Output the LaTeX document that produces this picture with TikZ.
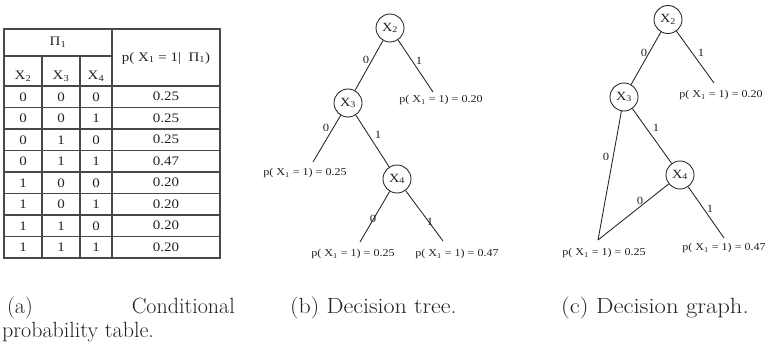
\documentclass[tikz,border=0pt]{standalone}
\usepackage{fontspec}
\newfontfamily\tfont[FakeStretch=1.15]{Liberation Serif}
\definecolor{ink}{HTML}{222222}
\definecolor{rulec}{HTML}{484848}
\begin{document}
\begin{tikzpicture}[x=1pt,y=-1pt,
  vnode/.style={circle,draw=ink,line width=0.85pt,minimum size=28pt,inner sep=0pt,font=\tfont\fontsize{12.5}{14}\selectfont,text=ink},
  leaf/.style={font=\tfont\fontsize{10.5}{12}\selectfont,text=ink,inner sep=0pt},
  elab/.style={font=\tfont\fontsize{11}{12}\selectfont,text=ink,inner sep=0pt},
  conn/.style={draw=ink,line width=0.85pt},
  tline/.style={draw=rulec,line width=1.2pt},
  tcell/.style={font=\tfont\fontsize{13}{15}\selectfont,text=ink,inner sep=0pt},
  capt/.style={font=\fontsize{22}{26}\selectfont,text=ink,inner sep=0pt}]
\useasboundingbox (0,0) rectangle (766,353);

% ---------- (a) table ----------
\draw[tline] (4,29) rectangle (220,258);
\draw[tline] (4,56) -- (112,56);
\draw[tline] (42,56) -- (42,258);
\draw[tline] (80,56) -- (80,258);
\draw[tline] (112,29) -- (112,258);
\foreach \k in {0,...,7} {
  \draw[tline] (4,86+21.5*\k) -- (220,86+21.5*\k);
}
\node[tcell] (pi) at (58,42) {Π\textsubscript{1}};
\node[tcell] (ph) at (166,58) {p( X\textsubscript{1} = 1|~ Π\textsubscript{1})};
\node[tcell] (h2) at (23,76) {X\textsubscript{2}};
\node[tcell] (h3) at (61,76) {X\textsubscript{3}};
\node[tcell] (h4) at (96,76) {X\textsubscript{4}};
\foreach \a/\b/\c/\v [count=\i from 0] in {0/0/0/0.25,0/0/1/0.25,0/1/0/0.25,0/1/1/0.47,1/0/0/0.20,1/0/1/0.20,1/1/0/0.20,1/1/1/0.20} {
  \node[tcell] (ra\i) at (23,96.75+21.5*\i) {\a};
  \node[tcell] (rb\i) at (61,96.75+21.5*\i) {\b};
  \node[tcell] (rc\i) at (96,96.75+21.5*\i) {\c};
  \node[tcell] (rv\i) at (166,96.75+21.5*\i) {\v};
}

% ---------- (b) decision tree ----------
\node[vnode] (b2) at (390,28) {X\textsubscript{2}};
\node[vnode] (b3) at (348,103) {X\textsubscript{3}};
\node[vnode] (b4) at (397,179) {X\textsubscript{4}};
\coordinate (b20e) at (433,92);
\coordinate (b25ae) at (313,162);
\coordinate (b25be) at (360,242);
\coordinate (b47e) at (443,241);
\node[leaf] (bl20) at (441,100) {p( X\textsubscript{1} = 1) = 0.20};
\node[leaf] (bl25a) at (305,173) {p( X\textsubscript{1} = 1) = 0.25};
\node[leaf] (bl25b) at (353,254) {p( X\textsubscript{1} = 1) = 0.25};
\node[leaf] (bl47) at (457,254) {p( X\textsubscript{1} = 1) = 0.47};
\draw[conn] (b2) -- (b3);
\draw[conn] (b2) -- (b20e);
\draw[conn] (b3) -- (b25ae);
\draw[conn] (b3) -- (b4);
\draw[conn] (b4) -- (b25be);
\draw[conn] (b4) -- (b47e);
\node[elab] (bla) at (366,60) {0};
\node[elab] (blb) at (419,61) {1};
\node[elab] (blc) at (326,128) {0};
\node[elab] (bld) at (378,135) {1};
\node[elab] (ble) at (373,219) {0};
\node[elab] (blf) at (430,222) {1};

% ---------- (c) decision graph ----------
\node[vnode] (c2) at (668,19.5) {X\textsubscript{2}};
\node[vnode] (c3) at (624,97) {X\textsubscript{3}};
\node[vnode] (c4) at (680,175) {X\textsubscript{4}};
\coordinate (c20e) at (714,83);
\coordinate (c25e) at (598,240);
\coordinate (c47e) at (724,238);
\node[leaf] (cl20) at (721,95) {p( X\textsubscript{1} = 1) = 0.20};
\node[leaf] (cl25) at (604,253) {p( X\textsubscript{1} = 1) = 0.25};
\node[leaf] (cl47) at (724,248) {p( X\textsubscript{1} = 1) = 0.47};
\draw[conn] (c2) -- (c3);
\draw[conn] (c2) -- (c20e);
\draw[conn] (c3) -- (c25e);
\draw[conn] (c3) -- (c4);
\draw[conn] (c4) -- (c25e);
\draw[conn] (c4) -- (c47e);
\node[elab] (cla) at (644,53) {0};
\node[elab] (clb) at (701,53) {1};
\node[elab] (clc) at (606,157) {0};
\node[elab] (cld) at (656,128) {1};
\node[elab] (cle) at (640,201) {0};
\node[elab] (clf) at (710,209) {1};

% ---------- captions ----------
\node[capt,anchor=base west] (capa1) at (7,313) {(a)};
\node[capt,anchor=base east] (capa2) at (235,313) {Conditional};
\node[capt,anchor=base west] (capa3) at (2,337) {probability table.};
\node[capt,anchor=base west] (capb) at (290,313) {\scalebox{1.09}[1]{(b) Decision tree.}};
\node[capt,anchor=base west] (capc) at (561,313) {\scalebox{1.12}[1]{(c) Decision graph.}};
\end{tikzpicture}
\end{document}
